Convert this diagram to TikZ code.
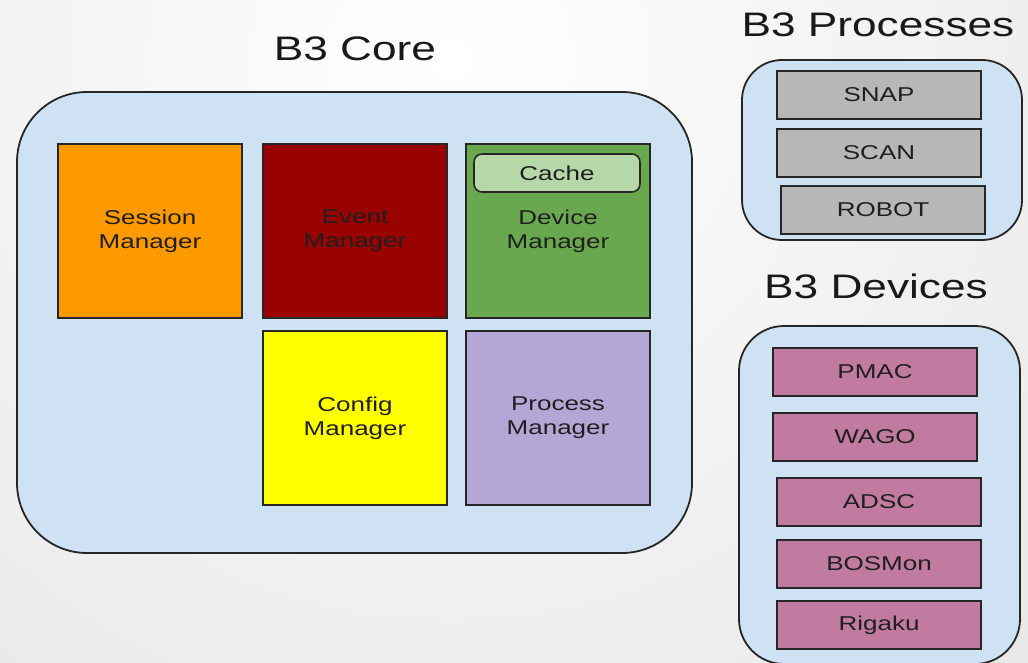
\documentclass[tikz,border=0pt]{standalone}
\usepackage{fontspec}
\setmainfont[FakeStretch=1.3]{Liberation Sans}
\begin{document}
\begin{tikzpicture}[x=1pt,y=-1pt,
  box/.style={draw=black!85, line width=1.6pt, minimum width=184pt, minimum height=174pt, inner sep=0pt, align=center, font=\fontsize{20}{24}\selectfont, text=black!88},
  small/.style={draw=black!85, line width=1.6pt, minimum width=204pt, minimum height=48pt, inner sep=0pt, font=\fontsize{20}{24}\selectfont, text=black!88},
  container/.style={draw=black!85, line width=1.8pt, fill=cont, inner sep=0pt},
  title/.style={font=\fontsize{34}{40}\selectfont, text=black!90, inner sep=0pt}
]
\definecolor{cont}{HTML}{CFE2F3}
\definecolor{orng}{HTML}{FF9900}
\definecolor{dred}{HTML}{990000}
\definecolor{grn}{HTML}{6AA84F}
\definecolor{lgrn}{HTML}{B6D7A8}
\definecolor{yel}{HTML}{FFFF00}
\definecolor{purp}{HTML}{B4A7D6}
\definecolor{gry}{HTML}{B7B7B7}
\definecolor{pink}{HTML}{C27BA0}
\useasboundingbox (0,0) rectangle (1028,662);
\begin{scope}
\clip (0,0) rectangle (1028,662);
\shade[inner color=white, outer color=black!18] (450,60) circle (1650);
\end{scope}
% titles
\node[title] (tcore) at (355,49) {B3 Core};
\node[title] (tproc) at (878,25) {B3 Processes};
\node[title] (tdev) at (876,286) {B3 Devices};
% containers
\node[container, minimum width=675pt, minimum height=461pt, rounded corners=70pt] (core) at (354.5,322.5) {};
\node[container, minimum width=280pt, minimum height=180pt, rounded corners=40pt] (proc) at (882,150) {};
\node[container, minimum width=281pt, minimum height=338pt, rounded corners=45pt] (dev) at (879.5,495) {};
% core boxes
\node[box, fill=orng] (sess) at (150,231) {Session\\Manager};
\node[box, fill=dred] (event) at (355,231) {Event\\Manager};
\node[box, fill=grn] (devm) at (558,231) {Device\\Manager};
\node[box, fill=yel] (conf) at (355,418) {Config\\Manager};
\node[box, fill=purp] (procm) at (558,418) {Process\\Manager};
\node[draw=black!85, line width=1.6pt, fill=lgrn, rounded corners=8pt, minimum width=166pt, minimum height=38pt, inner sep=0pt, font=\fontsize{20}{24}\selectfont, text=black!88] (cache) at (557,173) {Cache};
% processes
\node[small, fill=gry] (snap) at (879,95) {SNAP};
\node[small, fill=gry] (scan) at (879,153) {SCAN};
\node[small, fill=gry] (robot) at (883,210) {ROBOT};
% devices
\node[small, fill=pink] (pmac) at (875,372) {PMAC};
\node[small, fill=pink] (wago) at (875,437) {WAGO};
\node[small, fill=pink] (adsc) at (879,502) {ADSC};
\node[small, fill=pink] (bos) at (879,564) {BOSMon};
\node[small, fill=pink] (rig) at (879,625) {Rigaku};
\end{tikzpicture}
\end{document}
